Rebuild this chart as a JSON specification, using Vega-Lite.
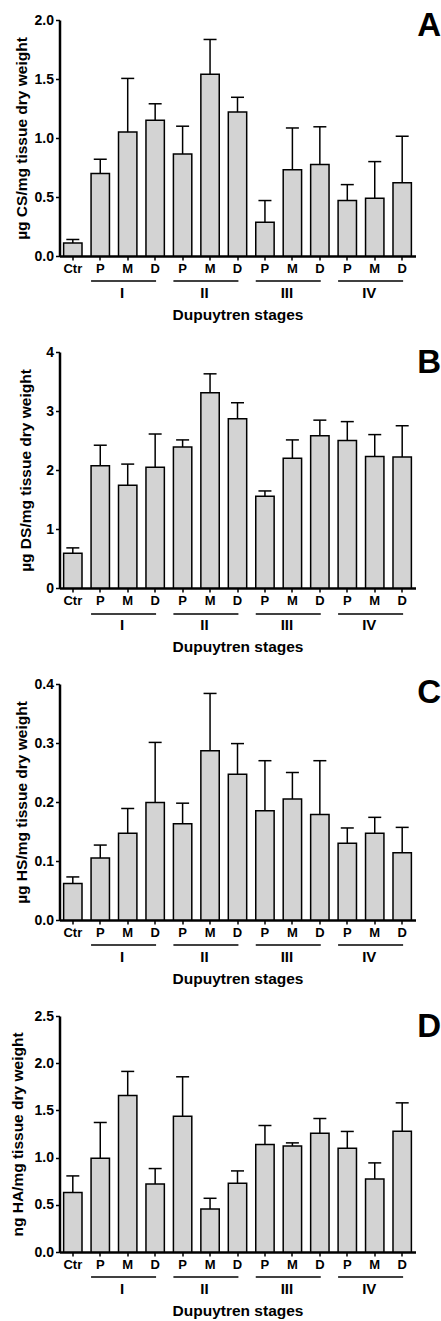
{
  "$schema": "https://vega.github.io/schema/vega-lite/v6.json",
  "padding": {"left": 9.5, "top": 10, "right": 0, "bottom": 0},
  "spacing": 22,
  "datasets": {
    "bars": [
      {"panel": "A", "id": "Ctr", "mean": 0.11, "hi": 0.14},
      {"panel": "A", "id": "I-P", "mean": 0.70, "hi": 0.82},
      {"panel": "A", "id": "I-M", "mean": 1.05, "hi": 1.505},
      {"panel": "A", "id": "I-D", "mean": 1.15, "hi": 1.29},
      {"panel": "A", "id": "II-P", "mean": 0.865, "hi": 1.10},
      {"panel": "A", "id": "II-M", "mean": 1.54, "hi": 1.835},
      {"panel": "A", "id": "II-D", "mean": 1.22, "hi": 1.345},
      {"panel": "A", "id": "III-P", "mean": 0.285, "hi": 0.47},
      {"panel": "A", "id": "III-M", "mean": 0.73, "hi": 1.085},
      {"panel": "A", "id": "III-D", "mean": 0.775, "hi": 1.095},
      {"panel": "A", "id": "IV-P", "mean": 0.47, "hi": 0.605},
      {"panel": "A", "id": "IV-M", "mean": 0.49, "hi": 0.80},
      {"panel": "A", "id": "IV-D", "mean": 0.62, "hi": 1.015},
      {"panel": "B", "id": "Ctr", "mean": 0.59, "hi": 0.68},
      {"panel": "B", "id": "I-P", "mean": 2.07, "hi": 2.42},
      {"panel": "B", "id": "I-M", "mean": 1.74, "hi": 2.10},
      {"panel": "B", "id": "I-D", "mean": 2.045, "hi": 2.61},
      {"panel": "B", "id": "II-P", "mean": 2.39, "hi": 2.51},
      {"panel": "B", "id": "II-M", "mean": 3.31, "hi": 3.63},
      {"panel": "B", "id": "II-D", "mean": 2.87, "hi": 3.14},
      {"panel": "B", "id": "III-P", "mean": 1.555, "hi": 1.645},
      {"panel": "B", "id": "III-M", "mean": 2.20, "hi": 2.51},
      {"panel": "B", "id": "III-D", "mean": 2.58, "hi": 2.845},
      {"panel": "B", "id": "IV-P", "mean": 2.50, "hi": 2.82},
      {"panel": "B", "id": "IV-M", "mean": 2.23, "hi": 2.60},
      {"panel": "B", "id": "IV-D", "mean": 2.22, "hi": 2.75},
      {"panel": "C", "id": "Ctr", "mean": 0.062, "hi": 0.073},
      {"panel": "C", "id": "I-P", "mean": 0.105, "hi": 0.127},
      {"panel": "C", "id": "I-M", "mean": 0.147, "hi": 0.189},
      {"panel": "C", "id": "I-D", "mean": 0.199, "hi": 0.301},
      {"panel": "C", "id": "II-P", "mean": 0.163, "hi": 0.198},
      {"panel": "C", "id": "II-M", "mean": 0.287, "hi": 0.384},
      {"panel": "C", "id": "II-D", "mean": 0.247, "hi": 0.299},
      {"panel": "C", "id": "III-P", "mean": 0.185, "hi": 0.270},
      {"panel": "C", "id": "III-M", "mean": 0.205, "hi": 0.250},
      {"panel": "C", "id": "III-D", "mean": 0.179, "hi": 0.270},
      {"panel": "C", "id": "IV-P", "mean": 0.130, "hi": 0.156},
      {"panel": "C", "id": "IV-M", "mean": 0.147, "hi": 0.174},
      {"panel": "C", "id": "IV-D", "mean": 0.114, "hi": 0.157},
      {"panel": "D", "id": "Ctr", "mean": 0.63, "hi": 0.806},
      {"panel": "D", "id": "I-P", "mean": 0.994, "hi": 1.372},
      {"panel": "D", "id": "I-M", "mean": 1.658, "hi": 1.913},
      {"panel": "D", "id": "I-D", "mean": 0.721, "hi": 0.884},
      {"panel": "D", "id": "II-P", "mean": 1.439, "hi": 1.856},
      {"panel": "D", "id": "II-M", "mean": 0.456, "hi": 0.569},
      {"panel": "D", "id": "II-D", "mean": 0.728, "hi": 0.859},
      {"panel": "D", "id": "III-P", "mean": 1.139, "hi": 1.34},
      {"panel": "D", "id": "III-M", "mean": 1.124, "hi": 1.156},
      {"panel": "D", "id": "III-D", "mean": 1.259, "hi": 1.414},
      {"panel": "D", "id": "IV-P", "mean": 1.10, "hi": 1.277},
      {"panel": "D", "id": "IV-M", "mean": 0.774, "hi": 0.944},
      {"panel": "D", "id": "IV-D", "mean": 1.28, "hi": 1.58}
    ],
    "groups": [
      {"stage": "I", "first": "I-P", "mid": "I-M", "last": "I-D"},
      {"stage": "II", "first": "II-P", "mid": "II-M", "last": "II-D"},
      {"stage": "III", "first": "III-P", "mid": "III-M", "last": "III-D"},
      {"stage": "IV", "first": "IV-P", "mid": "IV-M", "last": "IV-D"}
    ]
  },
  "vconcat": [
    {
      "width": 356, "height": 236,
      "title": {"text": "A", "orient": "right", "anchor": "start", "angle": 0, "align": "left", "baseline": "top", "offset": 0, "frame": "group", "dx": -22, "dy": -10},
      "layer": [
        {"data": {"name": "bars"}, "transform": [{"filter": "datum.panel === 'A'"}],
         "mark": {"type": "bar", "fill": "#d3d3d3", "stroke": "#000", "strokeWidth": 1.5},
         "encoding": {
           "x": {"field": "id", "type": "nominal", "sort": null,
                 "scale": {"domain": ["Ctr","I-P","I-M","I-D","II-P","II-M","II-D","III-P","III-M","III-D","IV-P","IV-M","IV-D"], "paddingInner": 0.33, "paddingOuter": 0.15},
                 "axis": {"title": "Dupuytren stages", "labelExpr": "slice(datum.label, lastindexof(datum.label, '-') + 1)"}},
           "y": {"field": "mean", "type": "quantitative", "scale": {"domain": [0, 2], "nice": false},
                 "axis": {"title": "µg CS/mg tissue dry weight", "values": [0, 0.5, 1, 1.5, 2], "format": ".1f", "titlePadding": 5}}
         }},
        {"data": {"name": "bars"}, "transform": [{"filter": "datum.panel === 'A'"}],
         "mark": {"type": "rule", "stroke": "#000", "strokeWidth": 1.5},
         "encoding": {"x": {"field": "id", "type": "nominal"}, "y": {"field": "mean", "type": "quantitative"}, "y2": {"field": "hi"}}},
        {"data": {"name": "bars"}, "transform": [{"filter": "datum.panel === 'A'"}],
         "mark": {"type": "tick", "orient": "horizontal", "size": 13, "thickness": 1.5, "color": "#000", "opacity": 1},
         "encoding": {"x": {"field": "id", "type": "nominal"}, "y": {"field": "hi", "type": "quantitative"}}},
        {"data": {"name": "groups"},
         "mark": {"type": "rule", "stroke": "#000", "strokeWidth": 1.5, "yOffset": 25},
         "encoding": {"x": {"field": "first", "type": "nominal", "bandPosition": 0}, "x2": {"field": "last", "bandPosition": 0.55}, "y": {"datum": 0, "type": "quantitative"}}},
        {"data": {"name": "groups"},
         "mark": {"type": "text", "fontSize": 15, "fontWeight": "bold", "color": "#000", "baseline": "alphabetic", "yOffset": 42},
         "encoding": {"x": {"field": "mid", "type": "nominal", "bandPosition": 0.2}, "y": {"datum": 0, "type": "quantitative"}, "text": {"field": "stage"}}}
      ]
    },
    {
      "width": 356, "height": 236,
      "title": {"text": "B", "orient": "right", "anchor": "start", "angle": 0, "align": "left", "baseline": "top", "offset": 0, "frame": "group", "dx": -22, "dy": -5},
      "layer": [
        {"data": {"name": "bars"}, "transform": [{"filter": "datum.panel === 'B'"}],
         "mark": {"type": "bar", "fill": "#d3d3d3", "stroke": "#000", "strokeWidth": 1.5},
         "encoding": {
           "x": {"field": "id", "type": "nominal", "sort": null,
                 "scale": {"domain": ["Ctr","I-P","I-M","I-D","II-P","II-M","II-D","III-P","III-M","III-D","IV-P","IV-M","IV-D"], "paddingInner": 0.33, "paddingOuter": 0.15},
                 "axis": {"title": "Dupuytren stages", "labelExpr": "slice(datum.label, lastindexof(datum.label, '-') + 1)"}},
           "y": {"field": "mean", "type": "quantitative", "scale": {"domain": [0, 4], "nice": false},
                 "axis": {"title": "µg DS/mg tissue dry weight", "values": [0, 1, 2, 3, 4], "format": "d", "titlePadding": 12}}
         }},
        {"data": {"name": "bars"}, "transform": [{"filter": "datum.panel === 'B'"}],
         "mark": {"type": "rule", "stroke": "#000", "strokeWidth": 1.5},
         "encoding": {"x": {"field": "id", "type": "nominal"}, "y": {"field": "mean", "type": "quantitative"}, "y2": {"field": "hi"}}},
        {"data": {"name": "bars"}, "transform": [{"filter": "datum.panel === 'B'"}],
         "mark": {"type": "tick", "orient": "horizontal", "size": 13, "thickness": 1.5, "color": "#000", "opacity": 1},
         "encoding": {"x": {"field": "id", "type": "nominal"}, "y": {"field": "hi", "type": "quantitative"}}},
        {"data": {"name": "groups"},
         "mark": {"type": "rule", "stroke": "#000", "strokeWidth": 1.5, "yOffset": 26},
         "encoding": {"x": {"field": "first", "type": "nominal", "bandPosition": 0}, "x2": {"field": "last", "bandPosition": 0.55}, "y": {"datum": 0, "type": "quantitative"}}},
        {"data": {"name": "groups"},
         "mark": {"type": "text", "fontSize": 15, "fontWeight": "bold", "color": "#000", "baseline": "alphabetic", "yOffset": 42},
         "encoding": {"x": {"field": "mid", "type": "nominal", "bandPosition": 0.2}, "y": {"datum": 0, "type": "quantitative"}, "text": {"field": "stage"}}}
      ]
    },
    {
      "width": 356, "height": 236,
      "title": {"text": "C", "orient": "right", "anchor": "start", "angle": 0, "align": "left", "baseline": "top", "offset": 0, "frame": "group", "dx": -22, "dy": -7},
      "layer": [
        {"data": {"name": "bars"}, "transform": [{"filter": "datum.panel === 'C'"}],
         "mark": {"type": "bar", "fill": "#d3d3d3", "stroke": "#000", "strokeWidth": 1.5},
         "encoding": {
           "x": {"field": "id", "type": "nominal", "sort": null,
                 "scale": {"domain": ["Ctr","I-P","I-M","I-D","II-P","II-M","II-D","III-P","III-M","III-D","IV-P","IV-M","IV-D"], "paddingInner": 0.33, "paddingOuter": 0.15},
                 "axis": {"title": "Dupuytren stages", "labelExpr": "slice(datum.label, lastindexof(datum.label, '-') + 1)"}},
           "y": {"field": "mean", "type": "quantitative", "scale": {"domain": [0, 0.4], "nice": false},
                 "axis": {"title": "µg HS/mg tissue dry weight", "values": [0, 0.1, 0.2, 0.3, 0.4], "format": ".1f", "titlePadding": 5}}
         }},
        {"data": {"name": "bars"}, "transform": [{"filter": "datum.panel === 'C'"}],
         "mark": {"type": "rule", "stroke": "#000", "strokeWidth": 1.5},
         "encoding": {"x": {"field": "id", "type": "nominal"}, "y": {"field": "mean", "type": "quantitative"}, "y2": {"field": "hi"}}},
        {"data": {"name": "bars"}, "transform": [{"filter": "datum.panel === 'C'"}],
         "mark": {"type": "tick", "orient": "horizontal", "size": 13, "thickness": 1.5, "color": "#000", "opacity": 1},
         "encoding": {"x": {"field": "id", "type": "nominal"}, "y": {"field": "hi", "type": "quantitative"}}},
        {"data": {"name": "groups"},
         "mark": {"type": "rule", "stroke": "#000", "strokeWidth": 1.5, "yOffset": 25},
         "encoding": {"x": {"field": "first", "type": "nominal", "bandPosition": 0}, "x2": {"field": "last", "bandPosition": 0.55}, "y": {"datum": 0, "type": "quantitative"}}},
        {"data": {"name": "groups"},
         "mark": {"type": "text", "fontSize": 15, "fontWeight": "bold", "color": "#000", "baseline": "alphabetic", "yOffset": 42},
         "encoding": {"x": {"field": "mid", "type": "nominal", "bandPosition": 0.2}, "y": {"datum": 0, "type": "quantitative"}, "text": {"field": "stage"}}}
      ]
    },
    {
      "width": 356, "height": 236,
      "title": {"text": "D", "orient": "right", "anchor": "start", "angle": 0, "align": "left", "baseline": "top", "offset": 0, "frame": "group", "dx": -22, "dy": -5},
      "layer": [
        {"data": {"name": "bars"}, "transform": [{"filter": "datum.panel === 'D'"}],
         "mark": {"type": "bar", "fill": "#d3d3d3", "stroke": "#000", "strokeWidth": 1.5},
         "encoding": {
           "x": {"field": "id", "type": "nominal", "sort": null,
                 "scale": {"domain": ["Ctr","I-P","I-M","I-D","II-P","II-M","II-D","III-P","III-M","III-D","IV-P","IV-M","IV-D"], "paddingInner": 0.33, "paddingOuter": 0.15},
                 "axis": {"title": "Dupuytren stages", "labelExpr": "slice(datum.label, lastindexof(datum.label, '-') + 1)"}},
           "y": {"field": "mean", "type": "quantitative", "scale": {"domain": [0, 2.5], "nice": false},
                 "axis": {"title": "ng HA/mg tissue dry weight", "values": [0, 0.5, 1, 1.5, 2, 2.5], "format": ".1f", "titlePadding": 9}}
         }},
        {"data": {"name": "bars"}, "transform": [{"filter": "datum.panel === 'D'"}],
         "mark": {"type": "rule", "stroke": "#000", "strokeWidth": 1.5},
         "encoding": {"x": {"field": "id", "type": "nominal"}, "y": {"field": "mean", "type": "quantitative"}, "y2": {"field": "hi"}}},
        {"data": {"name": "bars"}, "transform": [{"filter": "datum.panel === 'D'"}],
         "mark": {"type": "tick", "orient": "horizontal", "size": 13, "thickness": 1.5, "color": "#000", "opacity": 1},
         "encoding": {"x": {"field": "id", "type": "nominal"}, "y": {"field": "hi", "type": "quantitative"}}},
        {"data": {"name": "groups"},
         "mark": {"type": "rule", "stroke": "#000", "strokeWidth": 1.5, "yOffset": 25},
         "encoding": {"x": {"field": "first", "type": "nominal", "bandPosition": 0}, "x2": {"field": "last", "bandPosition": 0.55}, "y": {"datum": 0, "type": "quantitative"}}},
        {"data": {"name": "groups"},
         "mark": {"type": "text", "fontSize": 15, "fontWeight": "bold", "color": "#000", "baseline": "alphabetic", "yOffset": 42},
         "encoding": {"x": {"field": "mid", "type": "nominal", "bandPosition": 0.2}, "y": {"datum": 0, "type": "quantitative"}, "text": {"field": "stage"}}}
      ]
    }
  ],
  "config": {
    "font": "Liberation Sans",
    "view": {"stroke": null},
    "axis": {"grid": false, "domainColor": "#000", "domainWidth": 2.5, "tickColor": "#000", "tickWidth": 1.5, "tickSize": 4,
             "labelColor": "#000", "labelFontWeight": "bold", "labelFont": "Liberation Sans", "labelPadding": 2,
             "titleFont": "Liberation Sans", "titleFontWeight": "bold", "titleColor": "#000", "titleFontSize": 15.5},
    "axisX": {"labelFontSize": 13, "labelAngle": 0, "titlePadding": 32},
    "axisY": {"labelFontSize": 14},
    "title": {"fontSize": 33, "fontWeight": "bold", "color": "#000", "font": "Liberation Sans"}
  }
}
